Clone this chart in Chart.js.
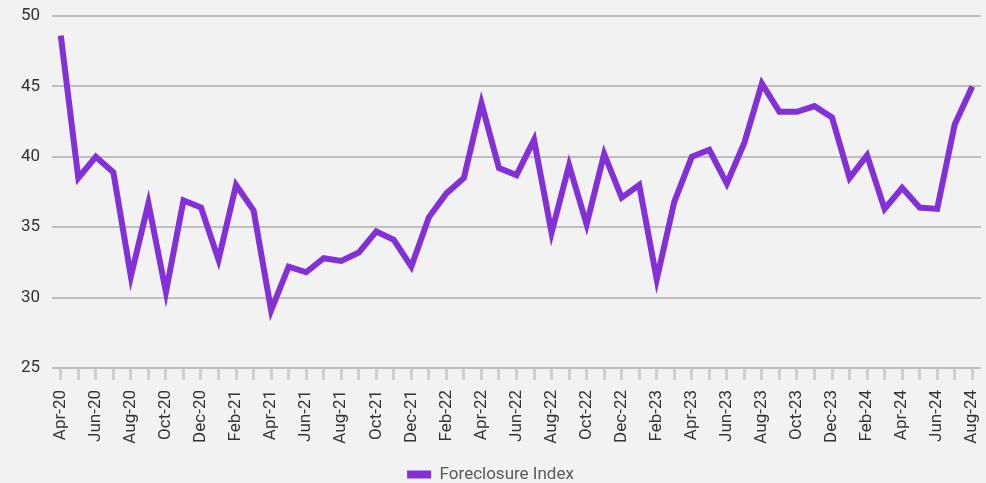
<!DOCTYPE html>
<html>
<head>
<meta charset="utf-8">
<script src="https://cdn.jsdelivr.net/npm/chart.js@4.4.1/dist/chart.umd.min.js"></script>
<style>
  html, body { margin: 0; padding: 0; background: #f2f2f2; }
  #wrap { width: 986px; height: 483px; position: relative; }
</style>
</head>
<body>
<div id="wrap"><canvas id="chart"></canvas></div>
<script>
// month labels, Apr-20 .. Aug-24
const months = [
  'Apr-20','May-20','Jun-20','Jul-20','Aug-20','Sep-20','Oct-20','Nov-20','Dec-20',
  'Jan-21','Feb-21','Mar-21','Apr-21','May-21','Jun-21','Jul-21','Aug-21','Sep-21','Oct-21','Nov-21','Dec-21',
  'Jan-22','Feb-22','Mar-22','Apr-22','May-22','Jun-22','Jul-22','Aug-22','Sep-22','Oct-22','Nov-22','Dec-22',
  'Jan-23','Feb-23','Mar-23','Apr-23','May-23','Jun-23','Jul-23','Aug-23','Sep-23','Oct-23','Nov-23','Dec-23',
  'Jan-24','Feb-24','Mar-24','Apr-24','May-24','Jun-24','Jul-24','Aug-24'
];

const foreclosureIndex = [
  48.6, 38.5, 40.0, 38.9, 31.5, 36.7, 30.4, 36.9, 36.4,
  32.7, 38.0, 36.2, 29.1, 32.2, 31.8, 32.8, 32.6, 33.2, 34.7, 34.1, 32.2,
  35.7, 37.4, 38.5, 43.8, 39.2, 38.7, 41.2, 34.6, 39.4, 35.2, 40.2, 37.1,
  38.0, 31.3, 36.8, 40.0, 40.5, 38.1, 41.0, 45.2, 43.2, 43.2, 43.6, 42.8,
  38.5, 40.1, 36.3, 37.8, 36.4, 36.3, 42.3, 45.0
];

const yTicks = { min: 25, max: 50, step: 5 };

const lineColor = '#8330d8';

const ctx = document.getElementById('chart').getContext('2d');
new Chart(ctx, {
  type: 'line',
  data: {
    labels: months,
    datasets: [{
      label: 'Foreclosure Index',
      data: foreclosureIndex,
      borderColor: lineColor,
      backgroundColor: lineColor,
      borderWidth: 6,
      pointRadius: 0,
      tension: 0,
      fill: false
    }]
  },
  options: {
    responsive: true,
    maintainAspectRatio: false,
    animation: false,
    layout: { padding: { top: 16, right: 5, left: 0, bottom: -10 } },
    plugins: {
      legend: {
        position: 'bottom',
        labels: {
          boxWidth: 24,
          boxHeight: 8,
          padding: 4,
          color: '#595959',
          font: { family: 'Roboto', size: 17 },
          generateLabels: function(chart) {
            // legend swatch without the thick outline of the line
            return Chart.defaults.plugins.legend.labels.generateLabels(chart).map(item => {
              item.lineWidth = 0;
              return item;
            });
          }
        }
      },
      tooltip: { enabled: false }
    },
    scales: {
      x: {
        offset: true,
        border: { display: false },
        grid: {
          offset: false,
          drawOnChartArea: false,
          drawTicks: true,
          tickLength: 12,
          tickWidth: 3,
          tickColor: '#d0d0d0'
        },
        ticks: {
          autoSkip: false,
          minRotation: 90,
          maxRotation: 90,
          padding: 10,
          color: '#333333',
          font: { family: 'Roboto', size: 17 },
          callback: function(value, index) {
            return index % 2 === 0 ? months[index] : '';
          }
        },
        afterFit: function(scale) {
          scale.height = 94;
          scale.paddingLeft = 0;
          scale.paddingRight = 0;
        }
      },
      y: {
        min: yTicks.min,
        max: yTicks.max,
        border: { display: false },
        grid: {
          color: '#bfbfbf',
          lineWidth: 2,
          drawTicks: false
        },
        ticks: {
          stepSize: yTicks.step,
          padding: 12,
          color: '#333333',
          font: { family: 'Roboto', size: 17 }
        },
        afterFit: function(scale) {
          scale.width = 52;
          scale.paddingTop = 0;
          scale.paddingBottom = 0;
        }
      }
    }
  }
});
</script>
</body>
</html>
